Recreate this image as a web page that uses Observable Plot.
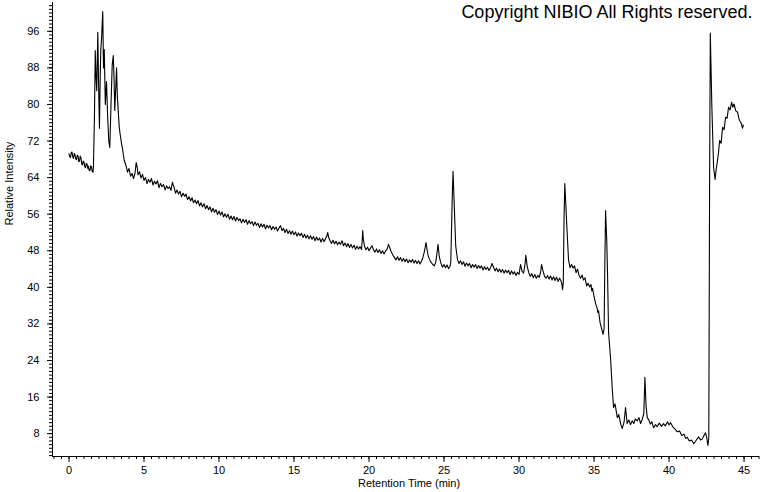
<!DOCTYPE html>
<html>
<head>
<meta charset="utf-8">
<script src="https://cdn.jsdelivr.net/npm/d3@7"></script>
<script src="https://cdn.jsdelivr.net/npm/@observablehq/plot@0.6"></script>
<style>
  html, body { margin: 0; padding: 0; background: #fff; }
  #chart { width: 760px; height: 492px; }
</style>
</head>
<body>
<div id="chart"></div>
<script>
// Chromatogram trace: [retention time (min), relative intensity]
const trace = [
  [0.0,69.2],[0.05,68.6],[0.1,68.4],[0.15,69.5],[0.2,69.6],[0.25,68.5],[0.3,68.2],[0.35,69.3],[0.4,69.0],[0.45,68.1],
  [0.5,67.9],[0.55,68.9],[0.6,68.8],[0.65,67.5],[0.7,67.6],[0.75,68.7],[0.8,68.3],[0.85,67.0],[0.9,66.8],[0.95,67.6],
  [1.0,67.4],[1.05,66.4],[1.1,66.2],[1.15,67.1],[1.2,67.0],[1.25,66.0],[1.3,66.5],[1.35,65.5],[1.4,65.6],[1.45,66.6],
  [1.5,66.3],[1.55,65.3],[1.6,65.2],[1.63,66.5],[1.7,78],[1.75,91.8],[1.8,86],[1.85,83],[1.92,95.8],[1.97,85],
  [2.03,74.8],[2.08,86],[2.12,92],[2.18,95],[2.25,100.3],[2.3,88],[2.35,92],[2.42,80],
  [2.5,85],[2.57,78],[2.65,72],[2.72,70.6],[2.8,80],[2.88,88.6],[2.95,90.7],[3.0,86],
  [3.05,78.7],[3.12,84],[3.17,88],[3.22,82],[3.28,78.7],[3.35,75],[3.4,73.7],[3.5,71.5],
  [3.58,70],[3.68,67.8],[3.8,66.6],[3.9,65.2],[4.0,66.0],[4.1,64.3],[4.2,64.9],[4.3,63.8],
  [4.4,65.0],[4.48,67.3],[4.55,66.2],[4.6,64.6],[4.7,65.3],[4.8,63.9],[4.9,64.7],
  [5.0,63.4],[5.1,64.0],[5.2,62.7],[5.3,63.6],[5.4,63.0],[5.5,63.8],[5.6,62.4],[5.7,63.2],[5.8,62.6],[5.9,63.3],
  [6.0,61.8],[6.1,62.7],[6.2,62.0],[6.3,62.5],[6.4,61.3],[6.5,62.2],[6.6,61.6],[6.7,62.0],[6.8,61.2],[6.85,62.2],
  [6.9,63.0],[6.95,62.4],[7.0,61.9],[7.1,60.6],[7.2,61.3],[7.3,60.4],[7.4,61.0],[7.5,59.8],[7.6,60.6],[7.7,59.9],
  [7.8,60.4],[7.9,59.2],[8.0,59.8],[8.1,58.9],[8.2,59.6],[8.3,58.5],[8.4,59.1],[8.5,58.3],[8.6,59.0],[8.7,57.8],
  [8.8,58.5],[8.9,57.6],[9.0,58.3],[9.1,57.2],[9.2,57.9],[9.3,57.0],[9.4,57.6],[9.5,56.5],[9.6,57.3],[9.7,56.4],
  [9.8,57.0],[9.9,55.9],[10.0,56.7],[10.1,55.8],[10.2,56.5],[10.3,55.4],[10.4,56.1],[10.5,55.3],[10.6,56.0],[10.7,54.9],
  [10.8,55.6],[10.9,54.8],[11.0,55.5],[11.1,54.5],[11.2,55.3],[11.3,54.6],[11.4,55.0],[11.5,54.1],[11.6,54.9],[11.7,54.2],
  [11.8,54.8],[11.9,53.8],[12.0,54.6],[12.1,53.9],[12.2,54.4],[12.3,53.5],[12.4,54.3],[12.5,53.6],[12.6,54.0],[12.7,53.1],
  [12.8,53.9],[12.9,53.2],[13.0,53.8],[13.1,52.8],[13.2,53.6],[13.3,53.0],[13.4,53.5],[13.5,52.6],[13.6,53.3],[13.7,52.7],
  [13.8,53.2],[13.9,52.3],[14.0,53.0],[14.1,53.5],[14.2,52.4],[14.3,52.9],[14.4,52.0],[14.5,52.7],[14.6,51.8],[14.7,52.4],
  [14.8,51.6],[14.9,52.3],[15.0,51.5],[15.1,52.1],[15.2,51.2],[15.3,51.9],[15.4,51.3],[15.5,51.8],[15.6,50.9],[15.7,51.6],
  [15.8,50.8],[15.9,51.4],[16.0,50.6],[16.1,51.3],[16.2,50.5],[16.3,51.1],[16.4,50.2],[16.5,51.0],[16.6,50.3],[16.7,50.8],
  [16.8,49.9],[16.9,50.7],[17.0,50.0],[17.1,50.6],[17.2,51.4],[17.25,52.0],[17.3,51.0],[17.4,50.2],[17.5,49.6],[17.6,50.3],
  [17.7,49.5],[17.8,50.1],[17.9,49.3],[18.0,49.9],[18.1,49.4],[18.2,50.2],[18.3,49.1],[18.4,49.7],[18.5,48.9],[18.6,49.6],
  [18.7,48.7],[18.8,49.4],[18.9,48.6],[19.0,49.2],[19.1,48.3],[19.2,49.0],[19.3,48.4],[19.4,48.9],[19.5,48.3],[19.55,50.5],
  [19.58,52.4],[19.62,50.5],[19.7,49.0],[19.8,48.2],[19.9,48.8],[20.0,48.0],[20.1,48.6],[20.2,49.1],[20.3,48.2],[20.4,47.7],
  [20.5,48.4],[20.6,47.6],[20.7,48.2],[20.8,47.4],[20.9,48.0],[21.0,47.3],[21.1,47.9],[21.2,48.3],[21.3,49.4],[21.4,48.5],
  [21.5,47.6],[21.6,47.0],[21.7,46.5],[21.8,46.0],[21.9,46.7],[22.0,45.9],[22.1,46.5],[22.2,45.7],[22.3,46.3],[22.4,45.6],
  [22.5,46.2],[22.6,45.4],[22.7,46.0],[22.8,45.5],[22.9,46.1],[23.0,45.3],[23.1,45.9],[23.2,45.2],[23.3,45.8],[23.4,45.1],
  [23.5,45.7],[23.6,46.6],[23.7,48.0],[23.8,49.8],[23.88,48.0],[23.95,46.8],[24.05,46.0],[24.15,45.4],[24.25,45.0],[24.35,44.7],
  [24.45,45.5],[24.55,48.0],[24.6,49.4],[24.68,46.8],[24.78,45.4],[24.9,44.4],[25.0,45.0],[25.1,44.3],[25.2,44.9],[25.3,44.1],
  [25.4,44.6],[25.45,45.5],[25.55,60],[25.6,65.4],[25.68,58],[25.78,49],[25.9,46.0],[26.0,45.2],[26.1,45.8],[26.2,45.0],
  [26.3,45.6],[26.4,44.6],[26.5,45.3],[26.6,44.7],[26.7,45.2],[26.8,44.3],[26.9,45.0],[27.0,44.4],[27.1,45.0],[27.2,44.1],
  [27.3,44.8],[27.4,44.2],[27.5,44.7],[27.6,43.8],[27.7,44.5],[27.8,43.9],[27.9,44.4],[28.0,43.7],[28.1,44.3],[28.2,45.2],
  [28.3,44.4],[28.4,43.6],[28.5,44.2],[28.6,43.4],[28.7,44.0],[28.8,43.3],[28.9,43.9],[29.0,43.1],[29.1,43.8],[29.2,43.2],
  [29.3,43.7],[29.4,42.8],[29.5,43.6],[29.6,42.9],[29.7,43.4],[29.8,42.6],[29.9,43.3],[30.0,42.8],[30.1,45.0],[30.2,43.5],
  [30.3,43.1],[30.4,45.0],[30.45,47.0],[30.55,44.5],[30.65,43.2],[30.75,42.4],[30.85,43.0],[30.95,42.1],[31.05,42.8],[31.15,42.0],
  [31.25,42.6],[31.35,42.2],[31.45,43.5],[31.5,45.0],[31.6,43.6],[31.7,42.4],[31.8,42.0],[31.9,42.6],[32.0,41.8],[32.1,42.5],
  [32.2,41.6],[32.3,42.3],[32.4,41.5],[32.5,42.2],[32.6,41.3],[32.7,42.0],[32.8,41.4],[32.85,40.8],[32.9,39.5],[32.95,41.0],
  [33.0,55],[33.05,62.7],[33.12,58],[33.2,52.4],[33.3,46],[33.4,44.3],[33.5,45.0],[33.6,44.2],[33.7,44.7],[33.8,43.2],
  [33.9,44.0],[34.0,42.6],[34.1,42.0],[34.2,42.7],[34.3,41.6],[34.4,42.1],[34.5,40.3],[34.6,40.9],[34.7,40.1],[34.8,40.6],
  [34.85,39.2],[34.9,39.8],[35.0,38.0],[35.1,36.5],[35.2,35.5],[35.25,34.5],[35.3,34.9],[35.4,32.3],[35.5,31.0],[35.6,29.7],
  [35.67,31.0],[35.72,45],[35.77,56.8],[35.85,50],[35.9,43],[35.97,30],[36.1,24.6],[36.21,18.1],[36.3,13.7],
  [36.4,14.5],[36.55,11.5],[36.65,12.2],[36.77,10.2],[36.88,9.1],[37.0,10.5],[37.1,13.7],[37.21,10.2],
  [37.32,11.0],[37.43,10.0],[37.55,10.8],[37.65,10.2],[37.75,11.2],[37.88,10.8],[38.0,11.5],[38.1,10.2],
  [38.2,11.0],[38.32,12.4],[38.39,20.3],[38.47,14],[38.55,11.5],[38.65,11.0],[38.75,10.1],[38.85,10.6],
  [38.97,9.3],[39.1,10.0],[39.2,9.5],[39.35,10.3],[39.5,9.6],[39.63,10.2],[39.75,9.7],[39.9,10.6],
  [40.0,9.9],[40.1,10.4],[40.25,9.5],[40.4,9.0],[40.55,8.4],[40.7,8.6],[40.85,7.6],[41.0,7.9],
  [41.1,7.0],[41.21,7.2],[41.35,6.4],[41.5,6.6],[41.65,5.8],[41.8,6.5],[41.97,7.3],[42.1,6.6],
  [42.21,6.8],[42.33,7.6],[42.43,8.2],[42.52,7.0],[42.59,5.4],[42.65,7.0],[42.7,60],[42.75,95.6],
  [42.8,88],[42.85,80],[42.9,74.3],[42.97,66.2],[43.07,63.6],[43.15,66],[43.23,67.8],[43.3,69.5],
  [43.37,72.1],[43.47,71.5],[43.57,75],[43.67,74.5],[43.77,77.2],[43.87,77.0],[43.97,79.4],[44.07,78.8],
  [44.17,80.5],[44.25,79.4],[44.33,80.1],[44.45,78.6],[44.57,78.3],[44.65,77.0],[44.7,76.5],[44.8,76.0],
  [44.9,74.8],[44.95,75.5]
];

const xTickLabels = [0, 5, 10, 15, 20, 25, 30, 35, 40, 45];
const yTickLabels = [8, 16, 24, 32, 40, 48, 56, 64, 72, 80, 88, 96];
const xLabel = "Retention Time (min)";
const yLabel = "Relative Intensity";
const copyright = "Copyright NIBIO All Rights reserved.";

const xDomain = [-1.1, 46.03];
const yDomain = [3, 102.3];
const xMinor = d3.range(-1, 46.01, 0.5);
const yMinor = d3.range(3.2, 102.3, 0.8);

const chart = Plot.plot({
  width: 760,
  height: 492,
  marginLeft: 52,
  marginRight: 1,
  marginTop: 2,
  marginBottom: 36,
  style: {fontFamily: "'Liberation Sans', Arial, sans-serif", fontSize: "11px", background: "#fff", color: "#000"},
  x: {domain: xDomain},
  y: {domain: yDomain},
  marks: [
    Plot.axisX({ticks: xMinor, tickSize: 3, tickFormat: () => "", label: null}),
    Plot.axisX({ticks: xTickLabels, tickSize: 6, tickPadding: 4, tickFormat: d => String(d), label: null}),
    Plot.axisY({ticks: yMinor, tickSize: 3, tickFormat: () => "", label: null}),
    Plot.axisY({ticks: yTickLabels, tickSize: 5, tickPadding: 8, tickFormat: d => String(d), label: null}),
    Plot.ruleX([xDomain[0]], {stroke: "#000"}),
    Plot.ruleY([yDomain[0]], {stroke: "#000"}),
    Plot.line(trace, {x: d => d[0], y: d => d[1], stroke: "#000", strokeWidth: 1.1}),
    Plot.text([copyright], {frameAnchor: "top-right", dx: -7, dy: 3, fontSize: 18, textAnchor: "end", lineAnchor: "top", fill: "#000"}),
    Plot.text([xLabel], {frameAnchor: "bottom", dx: 3, dy: 27, fontSize: 11, lineAnchor: "middle", fill: "#000"}),
    Plot.text([yLabel], {frameAnchor: "left", dx: -43, dy: -4, rotate: -90, fontSize: 11, lineAnchor: "middle", fill: "#000"})
  ]
});
document.getElementById("chart").appendChild(chart);
</script>
</body>
</html>
